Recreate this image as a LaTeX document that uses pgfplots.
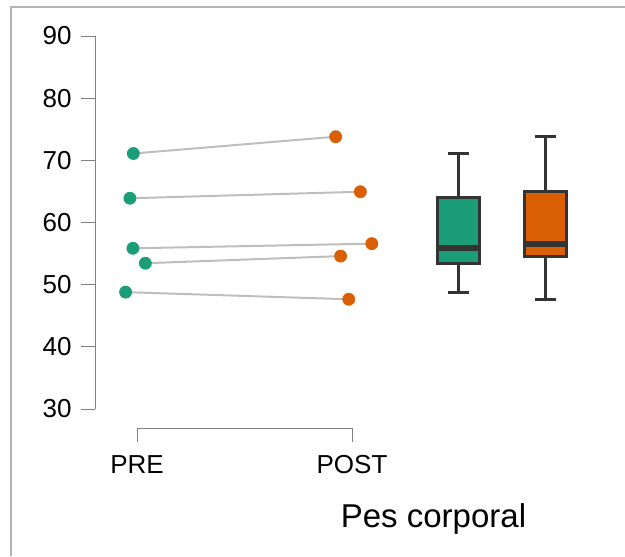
\documentclass[border=0pt]{standalone}
\usepackage{pgfplots}
\pgfplotsset{compat=1.18}
\usepackage{fontspec}
\setmainfont{Liberation Sans}
\definecolor{cgreen}{HTML}{1B9E77}
\definecolor{corange}{HTML}{D95F02}
\definecolor{cbox}{HTML}{333333}
\definecolor{cline}{HTML}{BEBEBE}
\definecolor{caxis}{HTML}{808080}
\begin{document}
\begin{tikzpicture}
\path[use as bounding box] (0,0) rectangle (312.5pt,-278pt);
\draw[color=black!30, line width=0.6pt] (5.5pt,-278pt) -- (5.5pt,-3.5pt) -- (312.5pt,-3.5pt);

\begin{axis}[
  at={(47.5pt,-204.5pt)}, anchor=south west,
  scale only axis, width=252.5pt, height=186.5pt,
  xmin=0.8047, xmax=3.1535, ymin=30, ymax=90,
  clip=false,
  hide x axis,
  axis y line*=left,
  axis line style={caxis, line width=0.5pt, -},
  ytick={30,40,...,90},
  ytick align=outside,
  major tick length=7pt,
  tick style={caxis, line width=0.5pt},
  yticklabel style={font=\fontsize{13}{15}\selectfont, black, xshift=-1.2pt},
  /pgf/number format/assume math mode=true,
]
% paired lines
\addplot[cline, line width=1pt, mark=none] coordinates {(0.983,71.1) (1.924,73.8)};
\addplot[cline, line width=1pt, mark=none] coordinates {(0.967,63.9) (2.039,64.95)};
\addplot[cline, line width=1pt, mark=none] coordinates {(0.981,55.85) (2.092,56.6)};
\addplot[cline, line width=1pt, mark=none] coordinates {(1.039,53.45) (1.947,54.6)};
\addplot[cline, line width=1pt, mark=none] coordinates {(0.947,48.8) (1.985,47.65)};
% points
\addplot[only marks, mark=*, mark size=3pt, mark options={draw=cgreen, fill=cgreen}]
  coordinates {(0.983,71.1) (0.967,63.9) (0.981,55.85) (1.039,53.45) (0.947,48.8)};
\addplot[only marks, mark=*, mark size=3pt, mark options={draw=corange, fill=corange}]
  coordinates {(1.924,73.8) (2.039,64.95) (2.092,56.6) (1.947,54.6) (1.985,47.65)};
% green box plot (x = 2.494)
\addplot[cbox, line width=1.5pt, mark=none] coordinates {(2.494,64.0) (2.494,71.1)};
\addplot[cbox, line width=1.5pt, mark=none] coordinates {(2.494,53.45) (2.494,48.8)};
\addplot[cbox, line width=1.5pt, mark=none] coordinates {(2.445,71.1) (2.543,71.1)};
\addplot[cbox, line width=1.5pt, mark=none] coordinates {(2.445,48.8) (2.543,48.8)};
\addplot[fill=cgreen, draw=cbox, line width=1.5pt, mark=none]
  coordinates {(2.396,53.45) (2.592,53.45) (2.592,64.0) (2.396,64.0)} -- cycle;
\addplot[cbox, line width=3pt, mark=none] coordinates {(2.396,55.85) (2.592,55.85)};
% orange box plot (x = 2.9)
\addplot[cbox, line width=1.5pt, mark=none] coordinates {(2.9,64.95) (2.9,73.8)};
\addplot[cbox, line width=1.5pt, mark=none] coordinates {(2.9,54.6) (2.9,47.65)};
\addplot[cbox, line width=1.5pt, mark=none] coordinates {(2.851,73.8) (2.949,73.8)};
\addplot[cbox, line width=1.5pt, mark=none] coordinates {(2.851,47.65) (2.949,47.65)};
\addplot[fill=corange, draw=cbox, line width=1.5pt, mark=none]
  coordinates {(2.802,54.6) (2.998,54.6) (2.998,64.95) (2.802,64.95)} -- cycle;
\addplot[cbox, line width=3pt, mark=none] coordinates {(2.802,56.6) (2.998,56.6)};
\end{axis}

\begin{axis}[
  at={(68.5pt,-214pt)}, anchor=south west,
  scale only axis, width=107.5pt, height=1pt,
  xmin=1, xmax=2, ymin=0, ymax=1,
  hide y axis,
  axis x line*=bottom,
  axis line style={caxis, line width=0.5pt, -},
  xtick={1,2}, xticklabels={PRE,POST},
  xtick align=outside,
  major tick length=7pt,
  tick style={caxis, line width=0.5pt},
  xticklabel style={font=\fontsize{13}{15}\selectfont, black, yshift=-3.2pt},
]
\addplot[draw=none, mark=none] coordinates {(1,0) (2,0)};
\end{axis}

\node[anchor=base, font=\fontsize{16.5}{20}\selectfont] at (216.75pt,-263.8pt) {Pes corporal};
\end{tikzpicture}
\end{document}
